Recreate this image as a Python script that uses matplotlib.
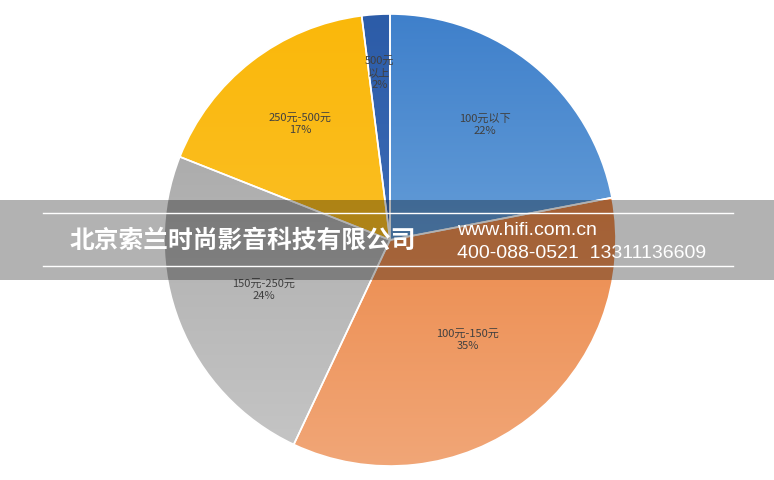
import numpy as np
import matplotlib
matplotlib.use('Agg')
import matplotlib.pyplot as plt
from matplotlib.colors import to_rgb
from matplotlib.patches import Rectangle

plt.rcParams['font.family'] = ['Noto Sans CJK SC', 'DejaVu Sans']

# slice data, clockwise from 12 o'clock
categories = ['100元以下', '100元-150元', '150元-250元', '250元-500元', '500元\n以上']
shares = [22, 35, 24, 17, 2]
top_colors = ['#3f80cb', '#e8762b', '#a1a1a1', '#fbb80a', '#2c5ca8']
bottom_colors = ['#88b8e3', '#f1a677', '#c6c6c6', '#f9c43c', '#4d79c2']
label_dist = [0.66, 0.56, 0.6, 0.65, 0.74]

company = '北京索兰时尚影音科技有限公司'
site = 'www.hifi.com.cn'
phones = '400-088-0521  13311136609'


def gradient(c_top, c_bot, n=256):
    t = np.linspace(0, 1, n)[:, None]
    top = np.array(to_rgb(c_top))
    bot = np.array(to_rgb(c_bot))
    return (bot + (top - bot) * t)[:, None, :]


fig = plt.figure(figsize=(7.74, 4.8), dpi=100)
ax = fig.add_axes([0, 0, 1, 1])

cx, cy, r = 390, 240, 226
wedges, _ = ax.pie(shares, startangle=90, counterclock=False, center=(cx, cy),
                   radius=r, frame=True,
                   wedgeprops=dict(facecolor='none', edgecolor='white', linewidth=1.2))
ax.set_aspect('equal')
ax.axis('off')

for w, ct, cb, lab, pct, d in zip(wedges, top_colors, bottom_colors,
                                  categories, shares, label_dist):
    im = ax.imshow(gradient(ct, cb), extent=(cx - r, cx + r, cy - r, cy + r),
                   origin='lower', aspect='auto', zorder=0.5)
    im.set_clip_path(w)
    w.set_zorder(1)
    mid = np.deg2rad((w.theta1 + w.theta2) / 2)
    ax.text(cx + d * r * np.cos(mid), cy + d * r * np.sin(mid),
            f'{lab}\n{pct}%', ha='center', va='center', fontsize=8,
            color='#404040', linespacing=1.3, zorder=2)

ax.set_xlim(0, 774)
ax.set_ylim(0, 480)

# watermark band
fig.patches.append(Rectangle((0, 200 / 480), 1, 80 / 480, transform=fig.transFigure,
                             facecolor='black', alpha=0.3, edgecolor='none', zorder=5))
for yy in (213, 266):
    fig.add_artist(plt.Line2D([43 / 774, 733 / 774], [1 - yy / 480] * 2,
                              transform=fig.transFigure, color='white', lw=1, zorder=6))
fig.text(70 / 774, 1 - 241 / 480, company, color='white', fontsize=17.8,
         fontweight='bold', va='center', ha='left', zorder=7)
fig.text(457 / 774, 1 - 231 / 480, site, color='white', fontsize=14,
         family='Liberation Sans', va='center', ha='left', zorder=7)
fig.text(457 / 774, 1 - 253 / 480, phones, color='white', fontsize=14,
         family='Liberation Sans', va='center', ha='left', zorder=7)

fig.savefig('out.png', dpi=100)
